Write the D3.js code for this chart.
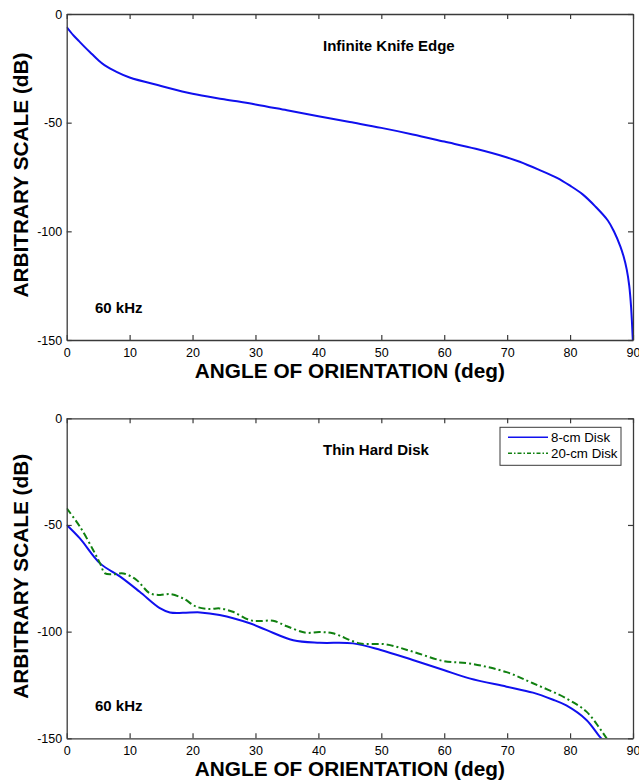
<!DOCTYPE html>
<html><head><meta charset="utf-8">
<script src="https://cdn.jsdelivr.net/npm/d3@7"></script>
<style>body{margin:0;background:#fff}svg{display:block}text{font-family:Arial,"Liberation Sans",sans-serif}</style>
</head><body><svg id="c" width="639" height="782"></svg>
<script>
// ---- data ----
const xTicks = [0,10,20,30,40,50,60,70,80,90];
const yTicks = [0,-50,-100,-150];
const knifeAngle = [0,1,2,3,4,5,6,8,10,15,20,25,30,35,40,45,50,55,60,65,70,72,75,78,80,82,84,86,87,88,88.5,89,89.4,89.7,90];
const knifeDb    = [-6,-9.6,-12.6,-15.6,-18.4,-21.2,-23.5,-26.7,-29.2,-33.1,-36.7,-39.2,-41.6,-44.3,-47,-49.7,-52.4,-55.4,-58.7,-62,-66,-68,-71.6,-75.5,-79,-83,-88.5,-95,-100.2,-107,-111.5,-117.5,-125,-135,-152];
const disk8Angle = [0,2.1,5.3,8.5,11.6,14.8,16.4,18.5,21.2,24.3,29.1,31.7,36,40.2,45.5,49.9,55,59.9,64,69.9,74.1,77.2,79.4,82.6,84.7,85.3];
const disk8Db    = [-50,-56.3,-68,-74.2,-81.3,-89,-91,-91.2,-91,-92.2,-96.1,-99.2,-104,-105.2,-105.5,-108.6,-113.3,-118,-121.9,-125.8,-128.6,-131.8,-134.6,-141.4,-149.2,-151];
const disk20Angle = [0,2.1,4.2,5.3,6.1,7.4,9,11.1,13.2,14.8,16.4,18.5,20.6,22.7,24.3,26.4,29.1,30.7,32.8,35,38,40.2,42.3,46.6,50.8,55,59.9,64,69.9,74.1,79.4,82.6,84.7,85.8,86.2];
const disk20Db    = [-42.2,-50.8,-61.7,-68,-72.7,-73.1,-72.7,-75.8,-82,-82.8,-82.4,-84.4,-88.3,-89.4,-89.1,-90.7,-94.6,-95,-94.9,-97.5,-100.5,-100.2,-100.8,-105.5,-106,-109.4,-113.8,-114.9,-119,-124.2,-131.3,-137.5,-145.3,-150,-152];
const seriesNames = ["8-cm Disk","20-cm Disk"];
const xLabel = "ANGLE OF ORIENTATION (deg)";
const yLabel = "ARBITRARY SCALE (dB)";

const svg = d3.select("#c");
const L = 66.7, R = 633;
const x = d3.scaleLinear().domain([0,90]).range([L,R]);
const axCol = "#3a3a3a";
const fmt = d => String(d);

function panel(top, bottom, title, lines, legend) {
  const y = d3.scaleLinear().domain([-150,0]).range([bottom, top]);
  const g = svg.append("g");
  const id = "clip"+Math.round(top);
  svg.append("clipPath").attr("id", id).append("rect")
    .attr("x", L).attr("y", top-1).attr("width", R-L).attr("height", bottom-top+1);
  const line = d3.line().x(d=>x(d[0])).y(d=>y(d[1])).curve(d3.curveCatmullRom.alpha(0.5));
  lines.forEach(s => {
    g.append("path").datum(d3.zip(s.a, s.v)).attr("d", line)
      .attr("fill","none").attr("stroke", s.color).attr("stroke-width", 2)
      .attr("stroke-dasharray", s.dash || null).attr("clip-path", `url(#${id})`);
  });
  const xb = g.append("g").attr("transform",`translate(0,${bottom})`)
    .call(d3.axisBottom(x).tickValues(xTicks).tickSizeInner(-5).tickSizeOuter(0).tickPadding(8).tickFormat(fmt));
  const xt = g.append("g").attr("transform",`translate(0,${top})`)
    .call(d3.axisTop(x).tickValues(xTicks).tickSizeInner(-5).tickSizeOuter(0).tickFormat(""));
  const yl = g.append("g").attr("transform",`translate(${L},0)`)
    .call(d3.axisLeft(y).tickValues(yTicks).tickSizeInner(-5).tickSizeOuter(0).tickPadding(4.5).tickFormat(fmt));
  const yr = g.append("g").attr("transform",`translate(${R},0)`)
    .call(d3.axisRight(y).tickValues(yTicks).tickSizeInner(-5).tickSizeOuter(0).tickFormat(""));
  [xb,xt,yl,yr].forEach(a => {
    a.select(".domain").attr("stroke", axCol).attr("stroke-width", 1.3);
    a.selectAll(".tick line").attr("stroke", axCol).attr("stroke-width", 1.2);
    a.selectAll(".tick text").attr("fill","#000").style("font-size","12.5px").style("font-family","Arial, 'Liberation Sans', sans-serif");
  });
  g.append("text").attr("x", 323).attr("y", top+37).text(title)
    .style("font-weight","bold").style("font-size","15px");
  g.append("text").attr("x", 95).attr("y", bottom-27).text("60 kHz")
    .style("font-weight","bold").style("font-size","15px");
  g.append("text").attr("x", (L+R)/2).attr("y", bottom+38).attr("text-anchor","middle")
    .text(xLabel).style("font-weight","bold").style("font-size","20.8px");
  g.append("text").attr("transform",`translate(28,${(top+bottom)/2 - 2}) rotate(-90)`)
    .attr("text-anchor","middle").text(yLabel)
    .style("font-weight","bold").style("font-size","20.8px");
  if (legend) {
    const lg = g.append("g").attr("transform",`translate(500,${top+9})`);
    lg.append("rect").attr("width",121).attr("height",38).attr("fill","#fff")
      .attr("stroke", axCol).attr("stroke-width",1);
    lines.forEach((s,i) => {
      const yy = 10 + i*16;
      lg.append("line").attr("x1",8).attr("x2",48).attr("y1",yy).attr("y2",yy)
        .attr("stroke", s.color).attr("stroke-width",1.5).attr("stroke-dasharray", s.legDash||null);
      lg.append("text").attr("x",51).attr("y",yy+4.7).text(s.name).style("font-size","13.3px");
    });
  }
}

panel(14, 340, "Infinite Knife Edge",
  [{a: knifeAngle, v: knifeDb, color: "#1010ee"}], false);
panel(418.3, 738.3, "Thin Hard Disk",
  [{a: disk8Angle, v: disk8Db, color: "#1010ee", name: seriesNames[0]},
   {a: disk20Angle, v: disk20Db, color: "#108010", dash: "7,3,2,3", legDash: "4,2,1.5,2", name: seriesNames[1]}], true);
</script></body></html>
